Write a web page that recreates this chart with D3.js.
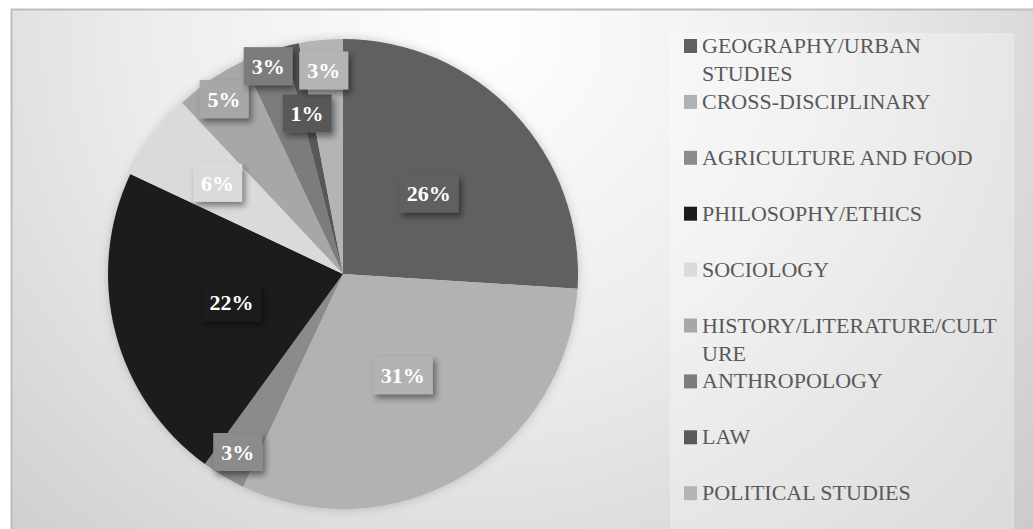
<!DOCTYPE html>
<html>
<head>
<meta charset="utf-8">
<script src="https://cdn.jsdelivr.net/npm/d3@7"></script>
<style>
  html, body { margin: 0; padding: 0; background: #fff; }
  svg { display: block; }
</style>
</head>
<body>
<div id="chart"></div>
<script>
// shares per discipline, clockwise from 12 o'clock
var categories = ["GEOGRAPHY/URBAN STUDIES", "CROSS-DISCIPLINARY", "AGRICULTURE AND FOOD",
  "PHILOSOPHY/ETHICS", "SOCIOLOGY", "HISTORY/LITERATURE/CULTURE", "ANTHROPOLOGY", "LAW",
  "POLITICAL STUDIES"];
var shares = [26, 31, 3, 22, 6, 5, 3, 1, 3];
var colors = ["#606060", "#b2b2b2", "#8b8b8b", "#1c1c1c", "#dadada", "#a7a7a7", "#7c7c7c", "#595959", "#b4b4b4"];

// where each data label sits, as a fraction of the radius (Excel "best fit" look)
var labelRadius = [0.5, 0.5, 0.88, 0.49, 0.66, 0.9, 0.94, 0.7, 0.87];

var W = 1033, H = 529;
var cx = 343, cy = 274, R = 235;
var font = "'Liberation Serif', 'Times New Roman', serif";

var svg = d3.select("#chart").append("svg")
  .attr("width", W)
  .attr("height", H);

var defs = svg.append("defs");

var bg = defs.append("radialGradient")
  .attr("id", "bgGrad")
  .attr("gradientUnits", "userSpaceOnUse")
  .attr("cx", 480).attr("cy", 30).attr("r", 760);
bg.append("stop").attr("offset", "0").attr("stop-color", "#ffffff");
bg.append("stop").attr("offset", "0.45").attr("stop-color", "#ececec");
bg.append("stop").attr("offset", "1").attr("stop-color", "#c9c9c9");

var shadow = defs.append("filter")
  .attr("id", "boxShadow")
  .attr("x", "-30%").attr("y", "-30%")
  .attr("width", "170%").attr("height", "170%");
shadow.append("feDropShadow")
  .attr("dx", 3).attr("dy", 4)
  .attr("stdDeviation", 3)
  .attr("flood-color", "#000")
  .attr("flood-opacity", 0.45);

var glow = defs.append("filter")
  .attr("id", "pieGlow")
  .attr("x", "-10%").attr("y", "-10%")
  .attr("width", "120%").attr("height", "120%");
glow.append("feDropShadow")
  .attr("dx", 0).attr("dy", 0)
  .attr("stdDeviation", 5)
  .attr("flood-color", "#000")
  .attr("flood-opacity", 0.2);

// chart area
svg.append("rect")
  .attr("x", 11.5).attr("y", 9.5)
  .attr("width", W + 20).attr("height", H + 20)
  .attr("fill", "url(#bgGrad)")
  .attr("stroke", "#bdbdbd")
  .attr("stroke-width", 2);

// legend panel
svg.append("rect")
  .attr("x", 670).attr("y", 33)
  .attr("width", 344).attr("height", H)
  .attr("fill", "#ffffff")
  .attr("fill-opacity", 0.3);

var data = categories.map(function(c, i) { return {name: c, value: shares[i], color: colors[i], lr: labelRadius[i]}; });

var pie = d3.pie()
  .sort(null)
  .value(function(d) { return d.value; });

var arc = d3.arc().innerRadius(0).outerRadius(R);

var g = svg.append("g")
  .attr("transform", "translate(" + cx + "," + cy + ")");

var arcs = pie(data);

g.append("g")
  .attr("filter", "url(#pieGlow)")
  .selectAll("path")
  .data(arcs)
  .enter().append("path")
  .attr("d", arc)
  .attr("fill", function(d) { return d.data.color; });

// data labels in little boxes
var labels = g.selectAll(".lbl")
  .data(arcs)
  .enter().append("g")
  .attr("class", "lbl")
  .attr("transform", function(d) {
    var r = R * d.data.lr;
    var a = d3.arc().innerRadius(r).outerRadius(r).centroid(d);
    return "translate(" + a[0] + "," + a[1] + ")";
  });

labels.each(function(d) {
  var el = d3.select(this);
  var rect = el.append("rect").attr("fill", d.data.color).attr("filter", "url(#boxShadow)");
  var t = el.append("text")
    .attr("text-anchor", "middle")
    .attr("dy", "0.35em")
    .style("font-family", font)
    .style("font-size", "22px")
    .style("font-weight", "bold")
    .style("fill", "#ffffff")
    .text(d.data.value + "%");
  var w = t.node().getComputedTextLength();
  rect.attr("x", -w / 2 - 8).attr("y", -19)
    .attr("width", w + 16).attr("height", 38);
});

// legend
var legendX = 684, legendY = 53, step = 55.9, maxW = 305;

var items = svg.append("g").selectAll(".leg")
  .data(data)
  .enter().append("g")
  .attr("class", "leg")
  .attr("transform", function(d, i) { return "translate(" + legendX + "," + (legendY + i * step) + ")"; });

items.append("rect")
  .attr("x", 0).attr("y", -14)
  .attr("width", 13).attr("height", 14)
  .attr("fill", function(d) { return d.color; });

items.each(function(d) {
  var text = d3.select(this).append("text")
    .attr("x", 18)
    .style("font-family", font)
    .style("font-size", "22px")
    .style("fill", "#595959");
  wrap(text, d.name, maxW);
});

function wrap(text, str, width) {
  var words = str.split(" ");
  var lineNo = 0;
  var tspan = text.append("tspan").attr("x", 18).attr("y", 0);
  var line = "";
  words.forEach(function(word) {
    var trial = line ? line + " " + word : word;
    tspan.text(trial);
    if (tspan.node().getComputedTextLength() <= width) {
      line = trial;
      return;
    }
    if (line) {
      tspan.text(line);
      lineNo++;
      tspan = text.append("tspan").attr("x", 18).attr("y", lineNo * 28);
      line = "";
    }
    // break a long word by characters
    var part = "";
    for (var k = 0; k < word.length; k++) {
      tspan.text(part + word[k]);
      if (tspan.node().getComputedTextLength() > width && part) {
        tspan.text(part);
        lineNo++;
        tspan = text.append("tspan").attr("x", 18).attr("y", lineNo * 28);
        part = word[k];
      } else {
        part += word[k];
      }
    }
    line = part;
    tspan.text(line);
  });
  tspan.text(line);
}
</script>
</body>
</html>
